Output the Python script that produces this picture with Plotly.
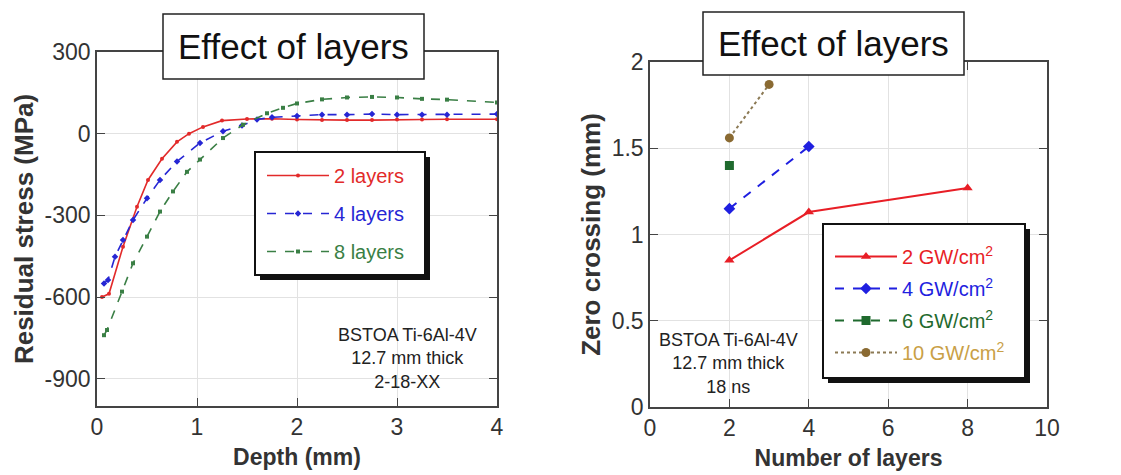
import plotly.graph_objects as go

# ---- Residual stress profiles vs depth (left panel) ----
depth_2 = [0.05, 0.12, 0.26, 0.40, 0.51, 0.65, 0.80, 0.92, 1.06, 1.25, 1.5, 1.75, 2.0, 2.25, 2.5, 2.75, 3.0, 3.25, 3.5, 4.0]
stress_2 = [-600, -588, -415, -268, -170, -92, -30, 0, 25, 48, 54, 55, 52, 50, 50, 50, 52, 52, 53, 53]

depth_4 = [0.07, 0.11, 0.18, 0.26, 0.36, 0.50, 0.63, 0.80, 1.03, 1.26, 1.45, 1.6, 1.75, 2.0, 2.25, 2.5, 2.75, 3.0, 3.25, 3.5, 4.0]
stress_4 = [-550, -537, -452, -390, -317, -237, -170, -102, -34, 9, 30, 52, 60, 65, 70, 70, 72, 70, 70, 70, 72]

depth_8 = [0.07, 0.10, 0.25, 0.36, 0.50, 0.63, 0.76, 0.90, 1.03, 1.26, 1.46, 1.70, 1.86, 2.0, 2.25, 2.5, 2.75, 3.0, 3.25, 3.5, 4.0]
stress_8 = [-740, -721, -580, -476, -378, -286, -212, -140, -95, -16, 33, 75, 95, 111, 126, 133, 135, 133, 128, 125, 115]

left_names = ["2 layers", "4 layers", "8 layers"]
stress_ticks = [-900, -600, -300, 0, 300]
stress_tick_text = ["-900", "-600", "-300", "0", "300"]

# ---- Zero crossing depth vs number of layers (right panel) ----
layers_2gw = [2, 4, 8]
zero_2gw = [0.85, 1.13, 1.27]
layers_4gw = [2, 4]
zero_4gw = [1.15, 1.51]
layers_6gw = [2]
zero_6gw = [1.40]
layers_10gw = [2, 3]
zero_10gw = [1.56, 1.87]

right_names = ["2 GW/cm<sup>2</sup>", "4 GW/cm<sup>2</sup>", "6 GW/cm<sup>2</sup>", "10 GW/cm<sup>2</sup>"]

W, H = 1121, 475
FONT = "Liberation Sans, Arial, sans-serif"


def px(x):
    return x / W


def py(y):
    return 1 - y / H


fig = go.Figure()

RED, BLUE, GREEN = "#e22a2a", "#2626d4", "#3a7f45"
left_styles = [
    (depth_2, stress_2, RED, "solid", "circle", 4),
    (depth_4, stress_4, BLUE, "dash", "diamond", 5),
    (depth_8, stress_8, GREEN, "dash", "square", 4),
]
for i, (xs, ys, col, dash, sym, msz) in enumerate(left_styles):
    fig.add_trace(go.Scatter(
        x=xs, y=ys, mode="lines+markers", xaxis="x", yaxis="y",
        name=f"<span style='color:{col}'>{left_names[i]}</span>",
        line=dict(color=col, width=1.6, dash=dash),
        marker=dict(symbol=sym, size=msz, color=col),
        legend="legend", legendgroup=f"l{i}",
    ))

R2, B2, G2, T2 = "#e81e26", "#1f1fe0", "#1f6a2e", "#8a6a32"
right_styles = [
    (layers_2gw, zero_2gw, R2, R2, "solid", "triangle-up", 9),
    (layers_4gw, zero_4gw, B2, B2, "dash", "diamond", 9),
    (layers_6gw, zero_6gw, G2, G2, "dash", "square", 9),
    (layers_10gw, zero_10gw, "#8c7a55", T2, "dot", "circle", 9),
]
right_text = [R2, B2, G2, "#c9a046"]
for i, (xs, ys, lc, mc, dash, sym, msz) in enumerate(right_styles):
    fig.add_trace(go.Scatter(
        x=xs, y=ys, mode="lines+markers", xaxis="x2", yaxis="y2",
        name=f"<span style='color:{right_text[i]}'>{right_names[i]}</span>",
        line=dict(color=lc, width=2, dash=dash),
        marker=dict(symbol=sym, size=msz, color=mc),
        legend="legend2", legendgroup=f"r{i}",
    ))

axis_common = dict(
    showline=True, linecolor="#444", linewidth=1.5, mirror="ticks",
    ticks="inside", ticklen=8, tickwidth=1.2, tickcolor="#444",
    showgrid=True, gridcolor="#e2e2e2", gridwidth=1, zeroline=False,
    tickfont=dict(family=FONT, size=23, color="#333"),
    automargin=False,
)
xtitle_font = dict(family=FONT, size=23, color="#333", weight="bold")
ytitle_font = dict(family=FONT, size=26, color="#333", weight="bold")

fig.update_layout(
    width=W, height=H, margin=dict(l=0, r=0, t=0, b=0),
    paper_bgcolor="white", plot_bgcolor="white",
    xaxis=dict(domain=[px(97), px(497)], range=[0, 4], dtick=1, anchor="y",
               title=dict(text="Depth (mm)", font=xtitle_font, standoff=10), **axis_common),
    yaxis=dict(domain=[py(406), py(52)], range=[-1000, 300], tickvals=stress_ticks,
               ticktext=stress_tick_text, anchor="x",
               title=dict(text="Residual stress (MPa)", font=ytitle_font, standoff=4), **axis_common),
    xaxis2=dict(domain=[px(650), px(1047)], range=[0, 10], dtick=2, anchor="y2",
                title=dict(text="Number of layers", font=xtitle_font, standoff=10), **axis_common),
    yaxis2=dict(domain=[py(407), py(62)], range=[0, 2], dtick=0.5, anchor="x2",
                title=dict(text="Zero crossing (mm)", font=ytitle_font, standoff=4), **axis_common),
    legend=dict(x=px(262), y=py(156), xanchor="left", yanchor="top",
                bgcolor="rgba(0,0,0,0)", borderwidth=0, itemwidth=62,
                traceorder="grouped", tracegroupgap=9,
                font=dict(family=FONT, size=20)),
    legend2=dict(x=px(830), y=py(237), xanchor="left", yanchor="top",
                 bgcolor="rgba(0,0,0,0)", borderwidth=0, itemwidth=62,
                 traceorder="grouped", tracegroupgap=3,
                 font=dict(family=FONT, size=20)),
    showlegend=True,
)

# legend frames with drop shadows, and framed panel titles
shapes = []
for (x0, y0, x1, y1, off) in [(255, 152, 425, 275, 5), (823, 224, 1025, 378, 5)]:
    shapes.append(dict(type="rect", xref="paper", yref="paper", layer="above",
                       x0=px(x0 + off), x1=px(x1 + off), y0=py(y1 + off), y1=py(y0 + off),
                       fillcolor="#111", line=dict(width=0)))
for (x0, y0, x1, y1) in [(163, 14, 424, 79), (703, 12, 964, 75)]:
    shapes.append(dict(type="rect", xref="paper", yref="paper", layer="above",
                       x0=px(x0), x1=px(x1), y0=py(y1), y1=py(y0),
                       fillcolor="white", line=dict(color="#222", width=1.5)))
for (x0, y0, x1, y1) in [(255, 152, 425, 275), (823, 224, 1025, 378)]:
    shapes.append(dict(type="rect", xref="paper", yref="paper", layer="above",
                       x0=px(x0), x1=px(x1), y0=py(y1), y1=py(y0),
                       fillcolor="white", line=dict(color="#111", width=2)))
fig.update_layout(shapes=shapes)

annots = [
    dict(text="Effect of layers", xref="paper", yref="paper", x=px(293.5), y=py(46.5),
         xanchor="center", yanchor="middle", showarrow=False,
         font=dict(family=FONT, size=35, color="#111")),
    dict(text="Effect of layers", xref="paper", yref="paper", x=px(833.5), y=py(43.5),
         xanchor="center", yanchor="middle", showarrow=False,
         font=dict(family=FONT, size=35, color="#111")),
    dict(text="BSTOA Ti-6Al-4V<br>12.7 mm thick<br>2-18-XX", xref="x", yref="y", x=3.1, y=-825,
         xanchor="center", yanchor="middle", showarrow=False, align="center",
         font=dict(family=FONT, size=18, color="#222")),
    dict(text="BSTOA Ti-6Al-4V<br>12.7 mm thick<br>18 ns", xref="x2", yref="y2", x=1.98, y=0.255,
         xanchor="center", yanchor="middle", showarrow=False, align="center",
         font=dict(family=FONT, size=18, color="#222")),
]
fig.update_layout(annotations=annots)

fig.write_html("out.html")
